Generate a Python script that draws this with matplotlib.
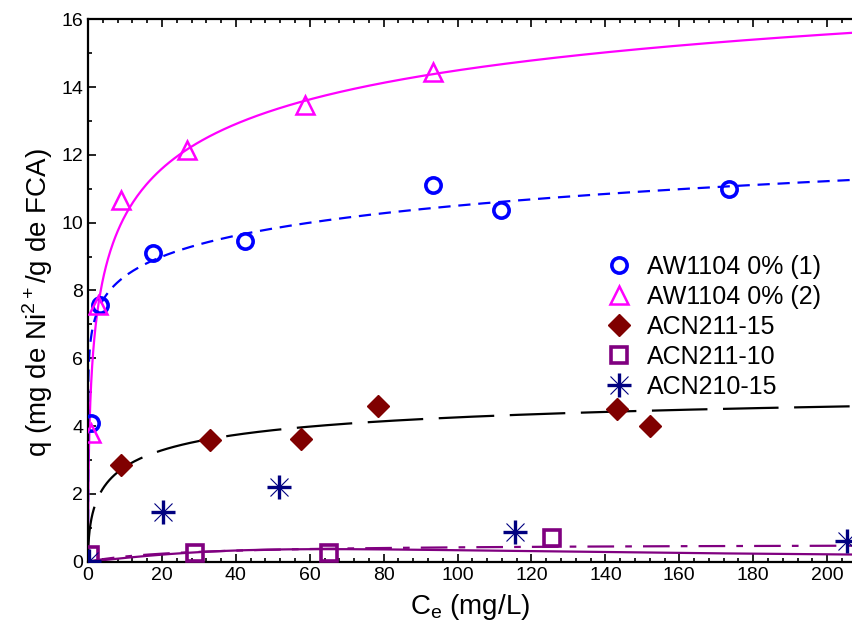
import numpy as np
import matplotlib.pyplot as plt
from matplotlib.legend_handler import HandlerTuple

plt.rcParams['font.family'] = ['Liberation Sans', 'DejaVu Sans']

# datos experimentales (Ce en mg/L, q en mg/g)
ce_aw1 = [0.7, 3.3, 17.7, 42.5, 93.4, 111.7, 173.5]
q_aw1 = [4.08, 7.57, 9.11, 9.46, 11.11, 10.37, 10.99]

ce_aw2 = [0.7, 2.8, 8.9, 26.7, 58.8, 93.4]
q_aw2 = [3.80, 7.57, 10.66, 12.15, 13.47, 14.45]

ce_211_15 = [8.9, 32.9, 57.5, 78.4, 143.2, 152.0]
q_211_15 = [2.85, 3.60, 3.63, 4.60, 4.49, 4.01]

ce_211_10 = [0.4, 29.0, 65.1, 125.6]
q_211_10 = [0.20, 0.27, 0.25, 0.71]

ce_210_15 = [0.3, 20.2, 51.6, 115.5, 205.5]
q_210_15 = [0.02, 1.46, 2.19, 0.89, 0.60]

# parametros de los ajustes
toth_aw2 = (21.5, 0.50, 0.30)      # qm, b, t
freund_aw1 = (6.75, 0.096)          # K, 1/n
sips_211_15 = (5.5, 0.107, 0.52)    # qm, K, n
lang_211_10 = (0.528, 0.0406)       # qm, K
curve_210_15 = (0.0114, 0.000237)   # a, c

labels = ['AW1104 0% (1)', 'AW1104 0% (2)', 'ACN211-15', 'ACN211-10', 'ACN210-15']


def toth(x, qm, b, t):
    x = np.asarray(x, dtype=float)
    out = np.zeros_like(x)
    m = x > 0
    out[m] = qm * (1 + b * x[m] ** (-t)) ** (-1 / t)
    return out


def freundlich(x, k, n):
    return k * np.asarray(x) ** n


def sips(x, qm, k, n):
    u = (k * np.asarray(x)) ** n
    return qm * u / (1 + u)


def langmuir(x, qm, k):
    return qm * k * x / (1 + k * x)


xfit = np.concatenate([[0], np.geomspace(1e-5, 210, 600)])

fig = plt.figure(figsize=(8.53, 6.38), dpi=100)
ax = fig.add_axes([0.1032, 0.1196, 0.8968, 0.8502])

ax.plot(xfit, toth(xfit, *toth_aw2), color='#FF00FF', lw=1.6, zorder=2)
ax.plot(xfit, freundlich(xfit, *freund_aw1), color='#0000FF', lw=1.6,
        dashes=(5.5, 3.5), zorder=2)
ax.plot(xfit, sips(xfit, *sips_211_15), color='black', lw=1.6,
        dashes=(25, 7), zorder=2)
ax.plot(xfit, langmuir(xfit, *lang_211_10), color='#800080', lw=1.6,
        dashes=(12, 5, 3, 5), zorder=2)
a, c = curve_210_15
ax.plot(xfit, a * xfit / (1 + c * xfit ** 2), color='#800080', lw=1.6, zorder=2)

h1, = ax.plot(ce_aw1, q_aw1, 'o', ms=11, mfc='none', mec='#0000FF', mew=2.6,
              zorder=3)
h2, = ax.plot(ce_aw2, q_aw2, '^', ms=13.5, mfc='none', mec='#FF00FF', mew=1.8,
              zorder=3)
h3, = ax.plot(ce_211_15, q_211_15, 'D', ms=11.5, color='#800000', zorder=3)
h4, = ax.plot(ce_211_10, q_211_10, 's', ms=11, mfc='none', mec='#800080',
              mew=2.6, zorder=3)
h5a, = ax.plot(ce_210_15, q_210_15, '+', ms=17, mec='#000080', mew=2.4,
               zorder=3)
h5b, = ax.plot(ce_210_15, q_210_15, 'x', ms=13, mec='#000080', mew=0.8,
               zorder=3)

ax.set_xlim(0, 207)
ax.set_ylim(0, 16)
ax.set_xticks(np.arange(0, 201, 20))
ax.set_xticks(np.arange(0, 207, 4), minor=True)
ax.set_yticks(np.arange(0, 17, 2))
ax.set_yticks(np.arange(0, 17, 1), minor=True)
ax.tick_params(which='both', direction='in', top=True, right=False,
               labelsize=14, width=1.2)
ax.tick_params(which='major', length=6)
ax.tick_params(which='minor', length=3)
ax.spines['right'].set_visible(False)
for s in ['left', 'bottom', 'top']:
    ax.spines[s].set_linewidth(1.6)

ax.set_xlabel('C$_\\mathregular{e}$ (mg/L)', fontsize=20, labelpad=6)
ax.set_ylabel('q (mg de Ni$^\\mathregular{2+}$/g de FCA)', fontsize=20)
ax.yaxis.set_label_coords(-0.043, 0.478)

ax.legend([h1, h2, h3, h4, (h5a, h5b)], labels,
          handler_map={tuple: HandlerTuple(ndivide=1, pad=0)},
          loc='upper left', bbox_to_anchor=(0.662, 0.588),
          frameon=False, fontsize=18, handlelength=1.0, handletextpad=0.6,
          labelspacing=0.24, borderpad=0)

fig.savefig('out.png', dpi=100)
